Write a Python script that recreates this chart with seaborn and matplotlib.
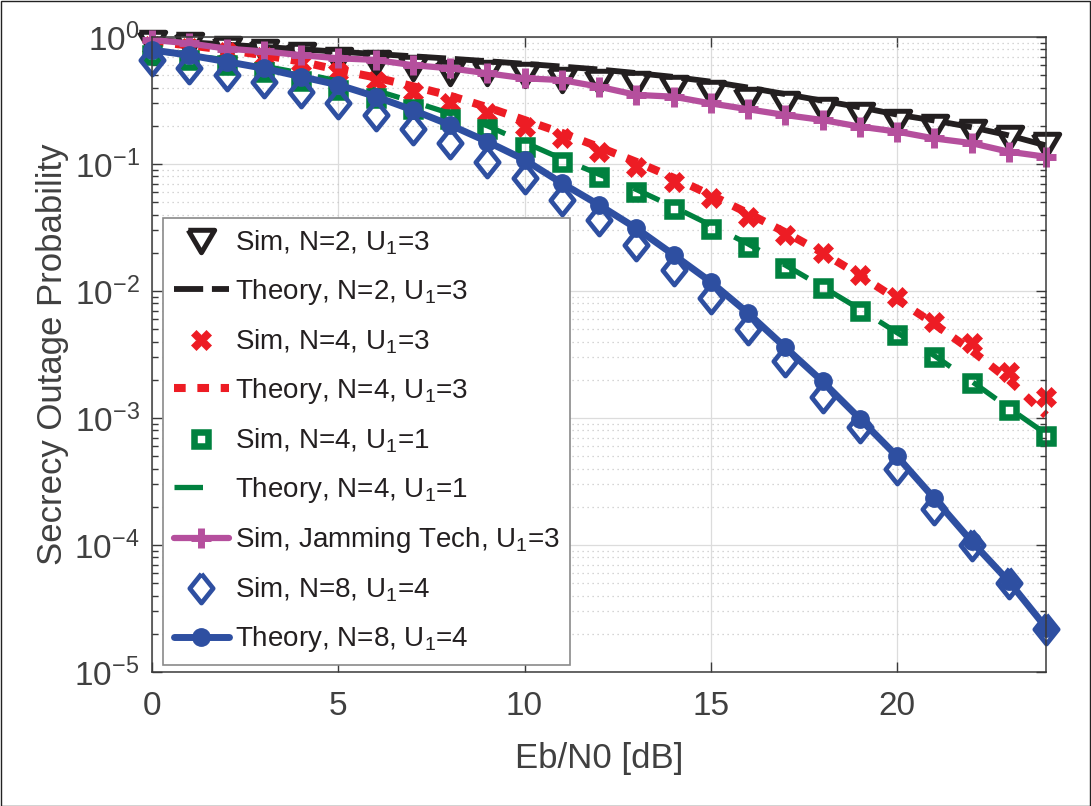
import numpy as np
import matplotlib
matplotlib.use("Agg")
import matplotlib.pyplot as plt
from matplotlib.patches import Rectangle
from matplotlib.ticker import LogLocator, NullFormatter, FixedLocator
import seaborn as sns

# ---------------- data ----------------
ebn0 = list(range(25))
sim_n2_u3 = [0.90, 0.86, 0.80, 0.76, 0.72, 0.66, 0.62, 0.57, 0.52, 0.52, 0.50, 0.46, 0.445,
             0.43, 0.40, 0.36, 0.32, 0.297, 0.266, 0.243, 0.215, 0.197, 0.178, 0.16, 0.141]
theory_n2_u3 = [0.95, 0.91, 0.87, 0.835, 0.80, 0.766, 0.735, 0.705, 0.675, 0.645, 0.615, 0.585,
                0.555, 0.52, 0.485, 0.445, 0.40, 0.355, 0.315, 0.28, 0.245, 0.22, 0.195, 0.168, 0.14]
sim_n4_u3 = [0.85, 0.82, 0.76, 0.70, 0.62, 0.53, 0.45, 0.37, 0.30, 0.25, 0.197, 0.16, 0.125,
             0.095, 0.0725, 0.054, 0.0385, 0.0277, 0.0198, 0.0134, 0.0090, 0.0057, 0.0039,
             0.00232, 0.00146]
theory_n4_u3 = [0.92, 0.86, 0.79, 0.72, 0.64, 0.55, 0.48, 0.41, 0.345, 0.28, 0.222, 0.176, 0.136,
                0.104, 0.078, 0.057, 0.041, 0.029, 0.020, 0.0133, 0.0086, 0.0055, 0.0034,
                0.0020, 0.00105]
sim_n4_u1 = [0.72, 0.66, 0.60, 0.53, 0.45, 0.38, 0.33, 0.27, 0.225, 0.19, 0.137, 0.104, 0.079,
             0.0607, 0.0440, 0.031, 0.0224, 0.0151, 0.0105, 0.0069, 0.0045, 0.0030, 0.00188,
             0.00115, 0.00072]
theory_n4_u1 = [0.78, 0.72, 0.66, 0.59, 0.52, 0.45, 0.38, 0.31, 0.25, 0.20, 0.148, 0.11, 0.083,
                0.063, 0.046, 0.033, 0.0235, 0.016, 0.0108, 0.0072, 0.0047, 0.0031, 0.00195,
                0.0012, 0.00075]
sim_jamming_u3 = [0.95, 0.89, 0.81, 0.77, 0.72, 0.68, 0.66, 0.60, 0.567, 0.518, 0.473, 0.458,
                  0.406, 0.35, 0.339, 0.30, 0.27, 0.243, 0.222, 0.197, 0.18, 0.159, 0.146,
                  0.125, 0.114]
sim_n8_u4 = [0.66, 0.567, 0.50, 0.445, 0.37, 0.30, 0.243, 0.19, 0.146, 0.104, 0.0775, 0.052,
             0.036, 0.0232, 0.0146, 0.0088, 0.0050, 0.0028, 0.00146, 0.00085, 0.00040,
             0.000193, 0.000100, 0.000050, 0.000022]
theory_n8_u4 = [0.79, 0.72, 0.64, 0.567, 0.487, 0.42, 0.34, 0.266, 0.203, 0.15, 0.108, 0.0707,
                0.0476, 0.0312, 0.0193, 0.0118, 0.0067, 0.0036, 0.00194, 0.00099, 0.00050,
                0.000233, 0.000107, 0.0000518, 0.0000224]

labels = [
    r"Sim, N=2, U$_1$=3",
    r"Theory, N=2, U$_1$=3",
    r"Sim, N=4, U$_1$=3",
    r"Theory, N=4, U$_1$=3",
    r"Sim, N=4, U$_1$=1",
    r"Theory, N=4, U$_1$=1",
    r"Sim, Jamming Tech, U$_1$=3",
    r"Sim, N=8, U$_1$=4",
    r"Theory, N=8, U$_1$=4",
]
x_label = "Eb/N0 [dB]"
y_label = "Secrecy Outage Probability"
x_ticks = [0, 5, 10, 15, 20]

# ---------------- style ----------------
sns.set_theme(style="ticks")
plt.rcParams["font.family"] = ["Liberation Sans", "DejaVu Sans"]
plt.rcParams["mathtext.fontset"] = "custom"
plt.rcParams["mathtext.rm"] = "Liberation Sans"
plt.rcParams["mathtext.it"] = "Liberation Sans"
plt.rcParams["mathtext.bf"] = "Liberation Sans:bold"

BLACK = "#231f20"
RED = "#ed1c24"
GREEN = "#00813f"
PURPLE = "#b54f9d"
BLUE = "#2e4fa1"
AXC = "#3a3a3a"

tri = [(-1, 0.85), (1, 0.85), (0, -0.85), (-1, 0.85)]
dia = [(0, 1), (0.8, 0), (0, -1), (-0.8, 0), (0, 1)]

fig = plt.figure(figsize=(10.91, 8.06), dpi=100)
fig.patch.set_facecolor("white")
ax = fig.add_axes([152 / 1091, 1 - 672 / 806, 894 / 1091, 635 / 806])
ax.set_facecolor("white")
ax.set_yscale("log")

common = dict(ax=ax, legend=False, sort=False)

sns.lineplot(x=ebn0, y=sim_n2_u3, color=BLACK, linestyle="none", marker=tri,
             markersize=19, markerfacecolor="none", markeredgecolor=BLACK,
             markeredgewidth=3.6, label=labels[0], **common)
sns.lineplot(x=ebn0, y=theory_n2_u3, color=BLACK, linewidth=4.2,
             linestyle=(0, (5.0, 1.5)), label=labels[1], **common)
sns.lineplot(x=ebn0, y=sim_n4_u3, color=RED, linestyle="none", marker="X",
             markersize=15, markerfacecolor=RED, markeredgecolor=RED,
             markeredgewidth=0.5, label=labels[2], **common)
sns.lineplot(x=ebn0, y=theory_n4_u3, color=RED, linewidth=5.8,
             linestyle=(0, (1.45, 1.45)), label=labels[3], **common)
sns.lineplot(x=ebn0, y=sim_n4_u1, color=GREEN, linestyle="none", marker="s",
             markersize=10, markerfacecolor="none", markeredgecolor=GREEN,
             markeredgewidth=4.7, label=labels[4], **common)
sns.lineplot(x=ebn0, y=theory_n4_u1, color=GREEN, linewidth=3.8,
             linestyle=(0, (5.4, 5.2)), label=labels[5], **common)
sns.lineplot(x=ebn0, y=sim_jamming_u3, color=PURPLE, linewidth=4.5, marker="+",
             markersize=15, markeredgecolor=PURPLE, markeredgewidth=5,
             label=labels[6], **common)
sns.lineplot(x=ebn0, y=sim_n8_u4, color=BLUE, linestyle="none", marker=dia,
             markersize=21, markerfacecolor="none", markeredgecolor=BLUE,
             markeredgewidth=3.4, label=labels[7], **common)
sns.lineplot(x=ebn0, y=theory_n8_u4, color=BLUE, linewidth=5, marker="o",
             markersize=12.5, markerfacecolor=BLUE, markeredgecolor=BLUE,
             markeredgewidth=1, label=labels[8], **common)

for ln in ax.lines:
    ln.set_clip_on(False)

ax.set_xlim(0, 24)
ax.set_ylim(1e-5, 1)
ax.xaxis.set_major_locator(FixedLocator(x_ticks))
ax.yaxis.set_major_locator(LogLocator(base=10, numticks=10))
ax.yaxis.set_minor_locator(LogLocator(base=10, subs=np.arange(2, 10), numticks=10))
ax.yaxis.set_minor_formatter(NullFormatter())

ax.set_axisbelow(True)
ax.grid(True, which="major", color="#dcdcdc", linewidth=0.9, linestyle="-")
ax.grid(True, which="minor", axis="y", color="#c8c8c8", linewidth=0.9, linestyle=(0, (1, 3)))

ax.tick_params(which="both", direction="in", top=True, right=True, colors=AXC,
               labelcolor="#404040", width=1.0)
ax.tick_params(which="major", length=7, labelsize=24)
ax.tick_params(axis="x", which="major", pad=14)
ax.tick_params(axis="y", which="major", pad=9)
ax.tick_params(which="minor", length=4.5)
for s in ax.spines.values():
    s.set_color(AXC)
    s.set_linewidth(1.1)

ax.set_xlabel(x_label, fontsize=25, color="#404040", labelpad=14)
ax.set_ylabel(y_label, fontsize=25, color="#404040", labelpad=4)

leg = ax.legend(loc="lower left", bbox_to_anchor=(11 / 894, 7 / 635),
                borderaxespad=0, fontsize=20, frameon=True, fancybox=False,
                framealpha=1, edgecolor="#8a8a8a", handlelength=2.0,
                handletextpad=0.2, borderpad=0.38, labelspacing=0.73)
leg.get_frame().set_linewidth(1.2)
for t in leg.get_texts():
    t.set_color(BLACK)

fig.add_artist(Rectangle((0.5 / 1091, 0.5 / 806), 1 - 1.5 / 1091, 1 - 1.5 / 806,
                         transform=fig.transFigure, fill=False, edgecolor="#222222",
                         linewidth=1.0))

fig.savefig("out.png", dpi=100, facecolor="white")
